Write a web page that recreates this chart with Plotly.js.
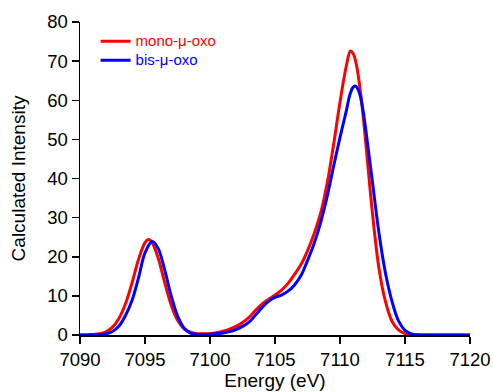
<!DOCTYPE html>
<html>
<head>
<meta charset="utf-8">
<script src="https://cdn.plot.ly/plotly-3.0.1.min.js"></script>
<style>html,body{margin:0;padding:0;background:#fff;}#chart{width:493px;height:392px;}</style>
</head>
<body>
<div id="chart"></div>
<script>
// Energy (eV) and calculated intensity
const monoEnergy = [7090, 7090.5, 7091, 7091.5, 7092, 7092.5, 7093, 7093.5, 7094, 7094.5, 7095, 7095.25, 7095.5, 7096, 7096.5, 7097, 7097.5, 7098, 7098.5, 7099, 7099.5, 7100, 7100.5, 7101, 7101.5, 7102, 7102.5, 7103, 7103.5, 7104, 7104.5, 7105, 7105.5, 7106, 7106.5, 7107, 7107.5, 7108, 7108.5, 7109, 7109.5, 7110, 7110.5, 7110.8, 7111, 7111.25, 7111.5, 7111.75, 7112, 7112.5, 7113, 7113.5, 7114, 7114.5, 7115, 7115.5, 7116, 7117, 7118, 7119, 7120];
const monoIntensity = [0, 0.03, 0.1, 0.3, 0.8, 2.0, 4.3, 8.0, 13.3, 19.3, 23.6, 24.4, 23.9, 19.8, 13.6, 7.8, 3.8, 1.6, 0.7, 0.35, 0.3, 0.4, 0.6, 1.0, 1.5, 2.2, 3.2, 4.5, 6.3, 7.9, 9.1, 10.2, 11.5, 13.2, 15.5, 18.0, 21.5, 25.8, 31.0, 38.5, 48.5, 59.5, 69.0, 72.6, 72.0, 69.3, 64.0, 57.0, 48.5, 31.0, 17.0, 8.5, 3.5, 1.3, 0.35, 0.08, 0.02, 0, 0, 0, 0];

const bisEnergy = [7090, 7090.5, 7091, 7091.5, 7092, 7092.5, 7093, 7093.5, 7094, 7094.5, 7095, 7095.55, 7096, 7096.5, 7097, 7097.5, 7098, 7098.5, 7099, 7099.5, 7100, 7100.5, 7101, 7101.5, 7102, 7102.5, 7103, 7103.5, 7104, 7104.5, 7105, 7105.5, 7106, 7106.5, 7107, 7107.5, 7108, 7108.5, 7109, 7109.5, 7110, 7110.5, 7110.75, 7111, 7111.2, 7111.5, 7111.75, 7112, 7112.5, 7113, 7113.5, 7114, 7114.5, 7115, 7115.5, 7116, 7116.5, 7117, 7118, 7119, 7120];
const bisIntensity = [0, 0.01, 0.02, 0.08, 0.3, 0.9, 2.3, 5.0, 8.8, 14.6, 21.0, 23.9, 22.2, 16.8, 10.2, 4.9, 1.8, 0.5, 0.15, 0.1, 0.15, 0.3, 0.5, 0.85, 1.4, 2.2, 3.3, 5.1, 7.0, 8.6, 9.6, 10.2, 11.2, 12.8, 15.2, 19.0, 23.3, 28.6, 35.2, 43.0, 50.5, 57.5, 61.3, 63.3, 63.6, 61.8, 57.8, 52.0, 39.0, 26.0, 15.8, 8.6, 3.6, 1.2, 0.3, 0.05, 0.01, 0, 0, 0, 0];

const seriesNames = ["mono-\u03bc-oxo", "bis-\u03bc-oxo"];
const seriesColors = ["#ff0000", "#0000ff"];
const xTicks = [7090, 7095, 7100, 7105, 7110, 7115, 7120];
const yTicks = [0, 10, 20, 30, 40, 50, 60, 70, 80];

const FONT = "Liberation Sans, Arial, sans-serif";

const traces = [
  {x: monoEnergy, y: monoIntensity, colorIdx: 0},
  {x: bisEnergy, y: bisIntensity, colorIdx: 1}
].map(s => ({
  type: "scatter",
  mode: "lines",
  x: s.x,
  y: s.y,
  name: '<span style="color:' + seriesColors[s.colorIdx] + ';font-size:15px">' + seriesNames[s.colorIdx] + '</span>',
  line: {color: seriesColors[s.colorIdx], width: 3, shape: "spline", smoothing: 1}
}));

const axisCommon = {
  showline: true,
  linecolor: "#000",
  linewidth: 1.5,
  ticks: "outside",
  ticklen: 7,
  tickwidth: 1.5,
  tickcolor: "#000",
  showgrid: false,
  zeroline: false,
  tickfont: {family: FONT, size: 18.5, color: "#000"},
  layer: "below traces"
};

const layout = {
  width: 493,
  height: 392,
  margin: {l: 80, r: 23, t: 22, b: 57},
  paper_bgcolor: "#fff",
  plot_bgcolor: "#fff",
  showlegend: true,
  legend: {
    x: 0.04, y: 0.985, xanchor: "left", yanchor: "top",
    bgcolor: "rgba(0,0,0,0)",
    font: {family: FONT, size: 12},
    tracegroupgap: 0
  },
  xaxis: Object.assign({}, axisCommon, {
    range: [7090, 7120],
    tickvals: xTicks,
    ticktext: xTicks.map(String),
    title: {text: "Energy (eV)", font: {family: FONT, size: 19, color: "#000"}, standoff: 4}
  }),
  yaxis: Object.assign({}, axisCommon, {
    range: [0, 80],
    tickvals: yTicks,
    ticktext: yTicks.map(String),
    title: {text: "Calculated Intensity", font: {family: FONT, size: 19, color: "#000"}, standoff: 16}
  })
};

Plotly.newPlot("chart", traces, layout, {displayModeBar: false, staticPlot: true});
</script>
</body>
</html>
